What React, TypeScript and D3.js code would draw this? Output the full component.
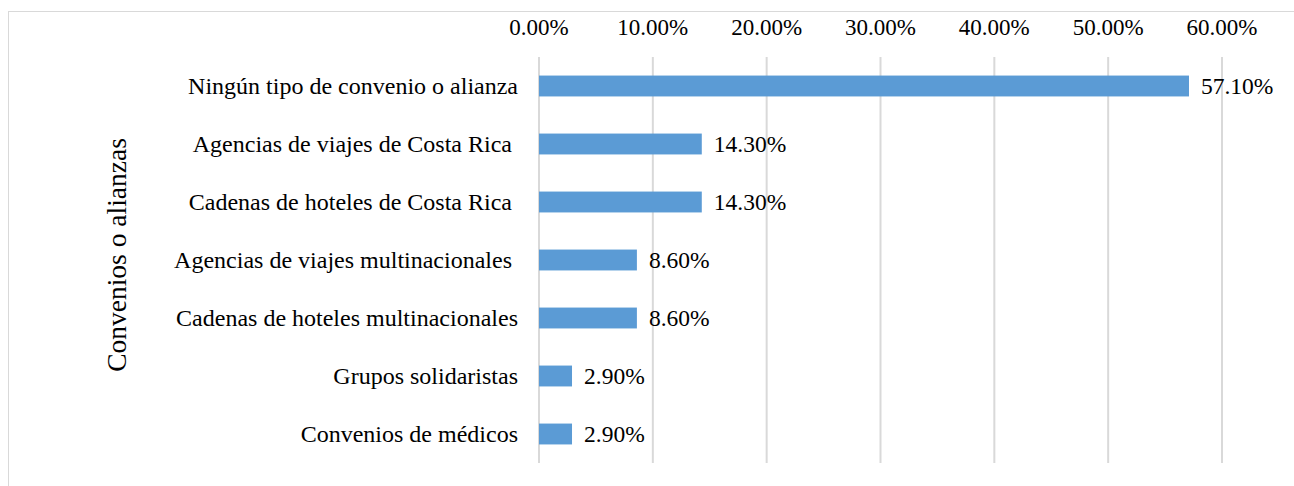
import React from "react";
import * as d3 from "d3";

const categories = [
  "Ningún tipo de convenio o alianza",
  "Agencias de viajes de Costa Rica ",
  "Cadenas de hoteles de Costa Rica ",
  "Agencias de viajes multinacionales ",
  "Cadenas de hoteles multinacionales",
  "Grupos solidaristas",
  "Convenios de médicos",
];
const values = [57.1, 14.3, 14.3, 8.6, 8.6, 2.9, 2.9];
const ticks = [0, 10, 20, 30, 40, 50, 60];
const axisTitle = "Convenios o alianzas";

const W = 1294;
const H = 486;
const FONT = "Liberation Serif";

export default function App() {
  const x = d3.scaleLinear().domain([0, 60]).range([539, 1222]);
  const y = d3.scaleBand<string>().domain(categories).range([57, 463]).paddingInner(0.64).paddingOuter(0.32);
  return (
    <svg width={W} height={H} style={{ position: "absolute", left: 0, top: 0, background: "#fff" }}>
      <rect x={8.5} y={11.5} width={1400} height={600} fill="#fff" stroke="#D9D9D9" strokeWidth={1} />
      {ticks.map((t) => (
        <g key={t}>
          <line x1={x(t)} x2={x(t)} y1={57} y2={463} stroke="#D9D9D9" strokeWidth={2} />
          <text x={x(t)} y={35} textAnchor="middle" fontFamily={FONT} fontSize={23} fill="#000">
            {t.toFixed(2) + "%"}
          </text>
        </g>
      ))}
      {categories.map((c, i) => {
        const yc = (y(c) as number) + y.bandwidth() / 2;
        return (
          <g key={c}>
            <rect x={x(0)} y={y(c)} width={x(values[i]) - x(0)} height={y.bandwidth()} fill="#5B9BD5" />
            <text x={518} y={yc + 7.5} textAnchor="end" fontFamily={FONT} fontSize={24} fill="#000" style={{ whiteSpace: "pre" }}>
              {c}
            </text>
            <text x={x(values[i]) + 12} y={yc + 8} fontFamily={FONT} fontSize={23.5} fill="#000">
              {values[i].toFixed(2) + "%"}
            </text>
          </g>
        );
      })}
      <text
        transform={`translate(126,255) rotate(-90)`}
        textAnchor="middle"
        fontFamily={FONT}
        fontSize={27.5}
        fill="#000"
      >
        {axisTitle}
      </text>
    </svg>
  );
}
